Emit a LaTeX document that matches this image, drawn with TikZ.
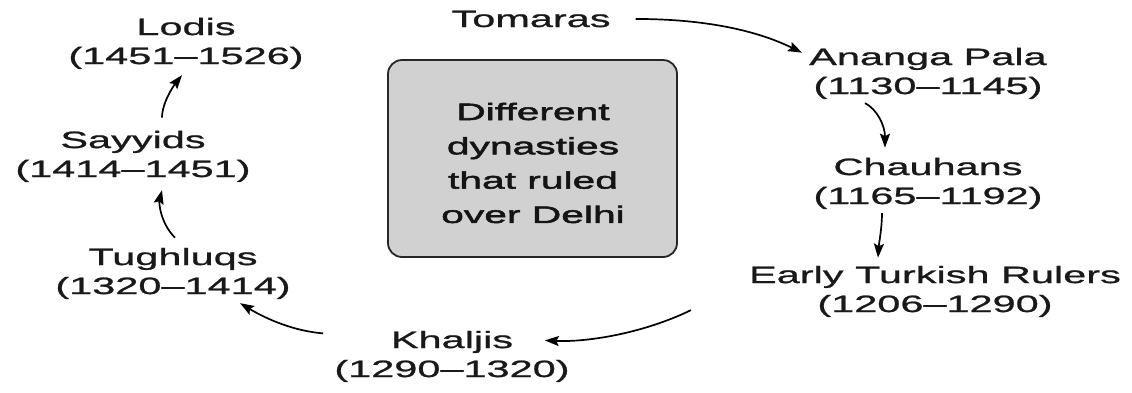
\documentclass[tikz,border=0pt]{standalone}
\usepackage{fontspec}
\setmainfont{Liberation Sans}[FakeStretch=1.75,FakeBold=1]
\newfontfamily\boxfont{Liberation Sans}[FakeStretch=1.72,FakeBold=2.2]
\usetikzlibrary{arrows.meta,calc}
\begin{document}
\begin{tikzpicture}[x=1pt,y=-1pt,
  lbl/.style={inner sep=0pt, align=center, text=black!90, font=\fontsize{23.7}{29}\selectfont},
  boxtxt/.style={inner sep=0pt, align=center, text=black!92, font=\boxfont\fontsize{23.7}{34.3}\selectfont},
  dbox/.style={draw=black!85, line width=1.8pt, rounded corners=14pt, fill=black!18,
    minimum width=289pt, minimum height=197pt, inner sep=0pt},
  conn/.style={line width=1.7pt, -{Stealth[length=14pt,width=10pt,inset=2.5pt]}}]
\useasboundingbox (0,0) rectangle (1132,392);
\node[dbox] (box) at (532.5,158.5) {};
\node[boxtxt] (title) at (533,163) {Different\\dynasties\\that ruled\\over Delhi};
\node[lbl, anchor=base] (tom) at (531,27) {Tomaras};
\node[lbl] (ana) at (928,73.4) {Ananga Pala\\(1130--1145)};
\node[lbl] (cha) at (928,183.4) {Chauhans\\(1165--1192)};
\node[lbl] (etr) at (935,291.4) {Early Turkish Rulers\\(1206--1290)};
\node[lbl] (kha) at (452,356.4) {Khaljis\\(1290--1320)};
\node[lbl] (tug) at (173,273.4) {Tughluqs\\(1320--1414)};
\node[lbl] (say) at (133,156.4) {Sayyids\\(1414--1451)};
\node[lbl] (lod) at (186,43.4) {Lodis\\(1451--1526)};
\draw[conn] ($(tom.east)+(25,0)$) .. controls +(70,0) and +(-45,-22) .. ($(ana.north west)+(-7,5)$);
\draw[conn] ($(ana.south)+(-63,4)$) .. controls +(12,6) and +(0,-22) .. ($(cha.north)+(-43,-10)$);
\draw[conn] ($(cha.south)+(-46,4)$) .. controls +(0,15) and +(1,-15) .. ($(etr.north)+(-57,-8)$);
\draw[conn] ($(etr.south west)+(-58,-7)$) .. controls +(-45,22) and +(45,2) .. ($(kha.east)+(-25,-16)$);
\draw[conn] ($(kha.west)+(-11,-23)$) .. controls +(-35,-3) and +(20,12) .. ($(tug.south)+(67,4)$);
\draw[conn] ($(tug.north)+(2,-10)$) .. controls +(-15,-15) and +(-3,12) .. ($(say.south)+(29,8)$);
\draw[conn] ($(say.north)+(29,-13)$) .. controls +(0,-15) and +(-8,10) .. ($(lod.south)+(-4,6)$);
\end{tikzpicture}
\end{document}
